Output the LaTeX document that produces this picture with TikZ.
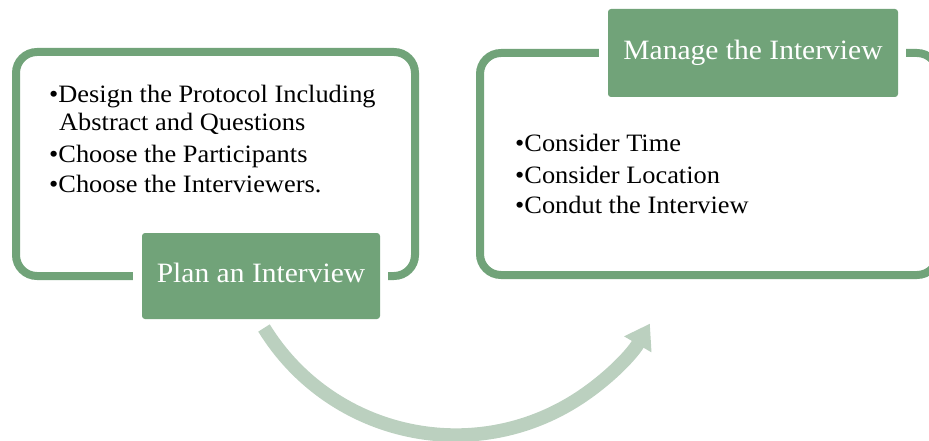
\documentclass[tikz,border=0pt]{standalone}
\usepackage{fontspec}
\setmainfont{Liberation Serif}[FakeStretch=1.055]
\usepackage{tikz}
\usetikzlibrary{arrows.meta,positioning}
\definecolor{stepgreen}{RGB}{113,163,121}
\definecolor{arrowgreen}{RGB}{187,208,191}

\begin{document}
\begin{tikzpicture}[x=1pt,y=-1pt,
  frame/.style={draw=stepgreen,line width=8pt,rounded corners=21pt},
  stepbox/.style={fill=stepgreen,text=white,rounded corners=3pt,inner sep=0pt,text height=19pt,text depth=6pt,font=\fontsize{28}{33}\selectfont},
  item/.style={anchor=base west,inner sep=0pt,font=\fontsize{25}{30}\selectfont},
  flow/.style={draw=arrowgreen,line width=13.6pt,-{Triangle[width=30pt,length=24pt]}}]
\useasboundingbox (0,0) rectangle (929,441);

% plan
\node[stepbox,minimum width=238pt,minimum height=86pt] (plan) at (261,276) {Plan an Interview};
\draw[frame] ([xshift=-9pt]plan.west) -- (16,276) -- (16,52) -- (415,52) -- (415,276) -- ([xshift=8pt]plan.east);
\node[item] (plan1) at (49,103) {\textbullet Design the Protocol Including};
\node[item] (plan1b) at (59,131) {Abstract and Questions};
\node[item] (plan2) at (49,162) {\textbullet Choose the Participants};
\node[item] (plan3) at (49,193) {\textbullet Choose the Interviewers.};

% manage
\node[stepbox,minimum width=290pt,minimum height=88pt] (manage) at (753,53) {Manage the Interview};
\draw[frame] ([xshift=-9pt]manage.west) -- (480,53) -- (480,275) -- (938,275) -- (938,53) -- ([xshift=8pt]manage.east);
\node[item] (manage1) at (515,152) {\textbullet Consider Time};
\node[item] (manage2) at (515,183) {\textbullet Consider Location};
\node[item] (manage3) at (515,213) {\textbullet Condut the Interview};

% plan -> manage
\coordinate (arrowstart) at (264,328);
\draw[flow] (arrowstart) arc[start angle=148.4,end angle=30.3,radius=225];
\end{tikzpicture}
\end{document}
